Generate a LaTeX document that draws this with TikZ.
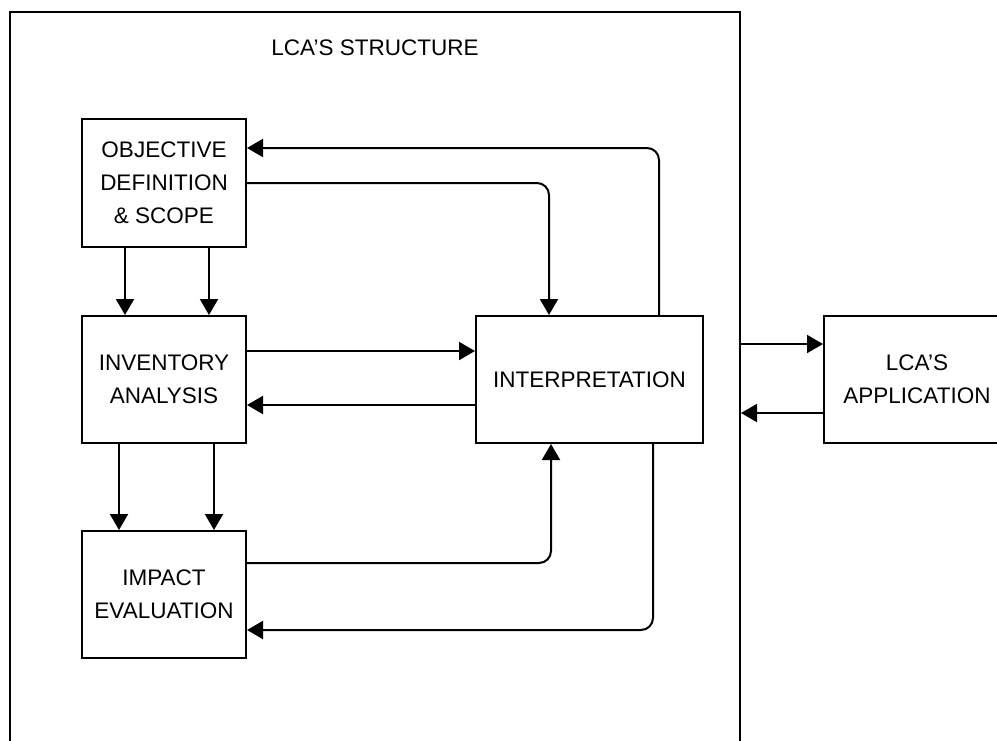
\documentclass[tikz,border=0pt]{standalone}
\usepackage{fontspec}
\setmainfont{Liberation Sans}
\usetikzlibrary{arrows.meta}
\begin{document}
\begin{tikzpicture}[x=1pt,y=-1pt,
  line width=2pt,
  every node/.style={font=\fontsize{22.5pt}{33pt}\selectfont},
  boxnode/.style={draw,rectangle,align=center,inner sep=0pt,minimum width=164pt,minimum height=127pt},
  arr/.style={-{Triangle[length=16pt,width=18pt]},rounded corners=12pt}]
\clip (0,0) rectangle (997,740);
\fill[white] (0,0) rectangle (997,740);
\node[draw,rectangle,minimum width=730pt,minimum height=748pt,inner sep=0pt] (outer) at (375,386) {};
\node (title) at (375,48) {LCA’S STRUCTURE};
\node[boxnode,minimum height=128pt] (obj) at (164,183) {OBJECTIVE\\DEFINITION\\\& SCOPE};
\node[boxnode] (inv) at (164,379.5) {INVENTORY\\ANALYSIS};
\node[boxnode] (imp) at (164,594.5) {IMPACT\\EVALUATION};
\node[boxnode,minimum width=227pt] (interp) at (589.5,379.5) {INTERPRETATION};
\node[boxnode,minimum width=186pt] (app) at (917,379.5) {LCA’S\\APPLICATION};
% vertical arrows
\draw[arr] (obj.south -| 125,0) -- (inv.north -| 125,0);
\draw[arr] (obj.south -| 209,0) -- (inv.north -| 209,0);
\draw[arr] (inv.south -| 119,0) -- (imp.north -| 119,0);
\draw[arr] (inv.south -| 214,0) -- (imp.north -| 214,0);
% horizontal
\draw[arr] (inv.east |- 0,351) -- (interp.west |- 0,351);
\draw[arr] (interp.west |- 0,405) -- (inv.east |- 0,405);
% loops
\draw[arr] (obj.east |- 0,183) -- (549,183) -- (interp.north -| 549,0);
\draw[arr] (interp.north -| 659,0) -- (659,148) -- (obj.east |- 0,148);
\draw[arr] (imp.east |- 0,563) -- (551,563) -- (interp.south -| 551,0);
\draw[arr] (interp.south -| 653,0) -- (653,630) -- (imp.east |- 0,630);
% application
\draw[arr] (outer.east |- 0,344) -- (app.west |- 0,344);
\draw[arr] (app.west |- 0,413) -- (outer.east |- 0,413);
\end{tikzpicture}
\end{document}
